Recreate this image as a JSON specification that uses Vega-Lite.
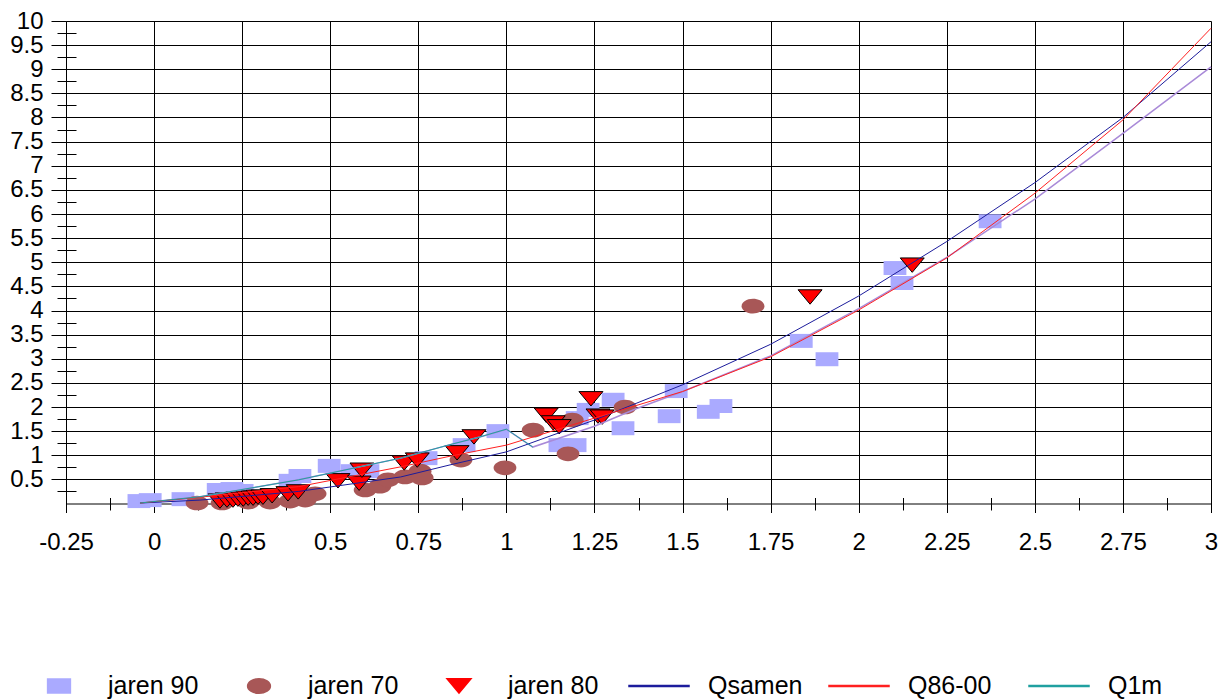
{
  "$schema": "https://vega.github.io/schema/vega-lite/v6.json",
  "width": 1145,
  "height": 482.5,
  "autosize": {"type": "none"},
  "padding": {"left": 66, "top": 21, "right": 20, "bottom": 196.5},
  "background": "white",
  "config": {
    "view": {"stroke": null},
    "axis": {"labelFont": "Liberation Sans", "labelFontSize": 24, "labelColor": "black", "domainColor": "black", "tickColor": "black", "gridColor": "black", "gridOpacity": 1, "tickWidth": 1, "gridWidth": 1, "domainWidth": 1, "title": null}
  },
  "data": {"values": [
    {"series": "jaren 90", "x": -0.043, "y": 0.05},
    {"series": "jaren 90", "x": -0.011, "y": 0.07},
    {"series": "jaren 90", "x": 0.082, "y": 0.09},
    {"series": "jaren 90", "x": 0.182, "y": 0.28},
    {"series": "jaren 90", "x": 0.221, "y": 0.30},
    {"series": "jaren 90", "x": 0.25, "y": 0.26},
    {"series": "jaren 90", "x": 0.386, "y": 0.47},
    {"series": "jaren 90", "x": 0.414, "y": 0.57},
    {"series": "jaren 90", "x": 0.497, "y": 0.78},
    {"series": "jaren 90", "x": 0.562, "y": 0.67},
    {"series": "jaren 90", "x": 0.607, "y": 0.67},
    {"series": "jaren 90", "x": 0.772, "y": 0.94},
    {"series": "jaren 90", "x": 0.88, "y": 1.21},
    {"series": "jaren 90", "x": 0.976, "y": 1.5},
    {"series": "jaren 90", "x": 1.152, "y": 1.21},
    {"series": "jaren 90", "x": 1.195, "y": 1.21},
    {"series": "jaren 90", "x": 1.201, "y": 1.77},
    {"series": "jaren 90", "x": 1.232, "y": 1.94},
    {"series": "jaren 90", "x": 1.303, "y": 2.15},
    {"series": "jaren 90", "x": 1.331, "y": 1.56},
    {"series": "jaren 90", "x": 1.462, "y": 1.81},
    {"series": "jaren 90", "x": 1.482, "y": 2.33},
    {"series": "jaren 90", "x": 1.573, "y": 1.9},
    {"series": "jaren 90", "x": 1.609, "y": 2.02},
    {"series": "jaren 90", "x": 1.837, "y": 3.37},
    {"series": "jaren 90", "x": 1.91, "y": 2.99},
    {"series": "jaren 90", "x": 2.103, "y": 4.88},
    {"series": "jaren 90", "x": 2.123, "y": 4.57},
    {"series": "jaren 90", "x": 2.373, "y": 5.85},
    {"series": "jaren 70", "x": 0.122, "y": 0.01},
    {"series": "jaren 70", "x": 0.193, "y": 0.01},
    {"series": "jaren 70", "x": 0.267, "y": 0.03},
    {"series": "jaren 70", "x": 0.329, "y": 0.03},
    {"series": "jaren 70", "x": 0.386, "y": 0.05},
    {"series": "jaren 70", "x": 0.429, "y": 0.07},
    {"series": "jaren 70", "x": 0.457, "y": 0.2},
    {"series": "jaren 70", "x": 0.599, "y": 0.28},
    {"series": "jaren 70", "x": 0.641, "y": 0.36},
    {"series": "jaren 70", "x": 0.664, "y": 0.49},
    {"series": "jaren 70", "x": 0.712, "y": 0.55},
    {"series": "jaren 70", "x": 0.755, "y": 0.67},
    {"series": "jaren 70", "x": 0.761, "y": 0.53},
    {"series": "jaren 70", "x": 0.871, "y": 0.9},
    {"series": "jaren 70", "x": 0.996, "y": 0.74},
    {"series": "jaren 70", "x": 1.076, "y": 1.52},
    {"series": "jaren 70", "x": 1.175, "y": 1.03},
    {"series": "jaren 70", "x": 1.187, "y": 1.73},
    {"series": "jaren 70", "x": 1.337, "y": 2.0},
    {"series": "jaren 70", "x": 1.7, "y": 4.09},
    {"series": "jaren 80", "x": 0.187, "y": 0.05},
    {"series": "jaren 80", "x": 0.207, "y": 0.07},
    {"series": "jaren 80", "x": 0.224, "y": 0.07},
    {"series": "jaren 80", "x": 0.238, "y": 0.09},
    {"series": "jaren 80", "x": 0.253, "y": 0.09},
    {"series": "jaren 80", "x": 0.267, "y": 0.11},
    {"series": "jaren 80", "x": 0.281, "y": 0.11},
    {"series": "jaren 80", "x": 0.295, "y": 0.13},
    {"series": "jaren 80", "x": 0.309, "y": 0.13},
    {"series": "jaren 80", "x": 0.335, "y": 0.16},
    {"series": "jaren 80", "x": 0.38, "y": 0.2},
    {"series": "jaren 80", "x": 0.409, "y": 0.24},
    {"series": "jaren 80", "x": 0.522, "y": 0.47},
    {"series": "jaren 80", "x": 0.582, "y": 0.42},
    {"series": "jaren 80", "x": 0.59, "y": 0.69},
    {"series": "jaren 80", "x": 0.71, "y": 0.84},
    {"series": "jaren 80", "x": 0.747, "y": 0.9},
    {"series": "jaren 80", "x": 0.86, "y": 1.05},
    {"series": "jaren 80", "x": 0.908, "y": 1.38},
    {"series": "jaren 80", "x": 1.113, "y": 1.83},
    {"series": "jaren 80", "x": 1.133, "y": 1.67},
    {"series": "jaren 80", "x": 1.15, "y": 1.59},
    {"series": "jaren 80", "x": 1.24, "y": 2.17},
    {"series": "jaren 80", "x": 1.26, "y": 1.81},
    {"series": "jaren 80", "x": 1.272, "y": 1.79},
    {"series": "jaren 80", "x": 1.862, "y": 4.28},
    {"series": "jaren 80", "x": 2.152, "y": 4.94},
    {"series": "Qsamen", "x": -0.04, "y": 0.01},
    {"series": "Qsamen", "x": 0.13, "y": 0.07},
    {"series": "Qsamen", "x": 0.41, "y": 0.25},
    {"series": "Qsamen", "x": 0.7, "y": 0.55},
    {"series": "Qsamen", "x": 0.84, "y": 0.8},
    {"series": "Qsamen", "x": 1.0, "y": 1.07},
    {"series": "Qsamen", "x": 1.25, "y": 1.73},
    {"series": "Qsamen", "x": 1.5, "y": 2.46},
    {"series": "Qsamen", "x": 1.75, "y": 3.3},
    {"series": "Qsamen", "x": 2.0, "y": 4.3},
    {"series": "Qsamen", "x": 2.25, "y": 5.43},
    {"series": "Qsamen", "x": 2.5, "y": 6.65},
    {"series": "Qsamen", "x": 2.75, "y": 8.0},
    {"series": "Qsamen", "x": 3.0, "y": 9.57},
    {"series": "Q86-00", "x": -0.04, "y": 0.01},
    {"series": "Q86-00", "x": 0.13, "y": 0.13},
    {"series": "Q86-00", "x": 0.41, "y": 0.35},
    {"series": "Q86-00", "x": 0.7, "y": 0.76},
    {"series": "Q86-00", "x": 0.84, "y": 0.98},
    {"series": "Q86-00", "x": 1.0, "y": 1.21},
    {"series": "Q86-00", "x": 1.25, "y": 1.77},
    {"series": "Q86-00", "x": 1.5, "y": 2.32},
    {"series": "Q86-00", "x": 1.75, "y": 3.04},
    {"series": "Q86-00", "x": 2.0, "y": 4.01},
    {"series": "Q86-00", "x": 2.25, "y": 5.09},
    {"series": "Q86-00", "x": 2.5, "y": 6.43},
    {"series": "Q86-00", "x": 2.75, "y": 7.95},
    {"series": "Q86-00", "x": 3.0, "y": 9.85},
    {"series": "Q1m", "x": -0.04, "y": 0.01},
    {"series": "Q1m", "x": 0.13, "y": 0.14},
    {"series": "Q1m", "x": 0.41, "y": 0.49},
    {"series": "Q1m", "x": 0.7, "y": 0.94},
    {"series": "Q1m", "x": 0.84, "y": 1.22},
    {"series": "Q1m", "x": 0.925, "y": 1.38},
    {"series": "Q1m", "x": 1.0, "y": 1.54},
    {"series": "Q1m", "x": 1.075, "y": 1.17},
    {"series": "Qfit", "x": -0.04, "y": 0.01},
    {"series": "Qfit", "x": 0.13, "y": 0.14},
    {"series": "Qfit", "x": 0.41, "y": 0.49},
    {"series": "Qfit", "x": 0.7, "y": 0.94},
    {"series": "Qfit", "x": 0.84, "y": 1.22},
    {"series": "Qfit", "x": 0.925, "y": 1.38},
    {"series": "Qfit", "x": 1.0, "y": 1.54},
    {"series": "Qfit", "x": 1.075, "y": 1.17},
    {"series": "Qfit", "x": 1.25, "y": 1.6},
    {"series": "Qfit", "x": 1.37, "y": 1.97},
    {"series": "Qfit", "x": 1.5, "y": 2.32},
    {"series": "Qfit", "x": 1.75, "y": 3.06},
    {"series": "Qfit", "x": 2.0, "y": 4.04},
    {"series": "Qfit", "x": 2.25, "y": 5.1},
    {"series": "Qfit", "x": 2.5, "y": 6.31},
    {"series": "Qfit", "x": 2.75, "y": 7.67},
    {"series": "Qfit", "x": 3.0, "y": 9.05}
  ]},
  "resolve": {"axis": {"x": "independent", "y": "independent"}},
  "layer": [
    {
      "transform": [{"filter": "datum.series === 'jaren 90'"}],
      "mark": {"type": "point", "filled": true, "opacity": 1, "size": 3600, "strokeWidth": 0},
      "encoding": {
        "x": {"field": "x", "type": "quantitative", "scale": {"domain": [-0.25, 3], "nice": false, "zero": false},
          "axis": {"orient": "bottom", "values": [-0.25, 0, 0.25, 0.5, 0.75, 1, 1.25, 1.5, 1.75, 2, 2.25, 2.5, 2.75, 3], "grid": true, "tickSize": 9, "labelPadding": 18, "labelExpr": "'' + datum.value", "labelFlush": false, "labelOverlap": false}},
        "y": {"field": "y", "type": "quantitative", "scale": {"domain": [0, 10], "nice": false, "zero": false},
          "axis": {"orient": "left", "values": [0.5, 1, 1.5, 2, 2.5, 3, 3.5, 4, 4.5, 5, 5.5, 6, 6.5, 7, 7.5, 8, 8.5, 9, 9.5, 10], "grid": true, "tickSize": 15, "labelPadding": 8, "labelExpr": "'' + datum.value", "labelFlush": false, "labelOverlap": false}},
        "color": {"field": "series", "type": "nominal",
          "scale": {"domain": ["jaren 90", "jaren 70", "jaren 80", "Qsamen", "Q86-00", "Q1m"], "range": ["#aaaaff", "#a85757", "#ff0000", "#1c1c9c", "#ff2020", "#20a0a0"]},
          "legend": {"title": null, "orient": "none", "legendX": -38, "legendY": 634, "direction": "horizontal", "columns": 6, "gridAlign": "all", "columnPadding": 23, "symbolSize": 3600, "symbolOpacity": 1, "labelOffset": 18, "labelFont": "Liberation Sans", "labelFontSize": 25, "labelColor": "black", "padding": 0}
        },
        "shape": {"field": "series", "type": "nominal",
          "scale": {"domain": ["jaren 90", "jaren 70", "jaren 80", "Qsamen", "Q86-00", "Q1m"],
            "range": ["M-0.38,-0.233L0.38,-0.233L0.38,0.233L-0.38,0.233Z", "M-0.38,0A0.38,0.245 0 1,0 0.38,0A0.38,0.245 0 1,0 -0.38,0Z", "M-0.4,-0.24L0.4,-0.24L0,0.24Z", "M-1,-0.017L1,-0.017L1,0.017L-1,0.017Z", "M-1,-0.017L1,-0.017L1,0.017L-1,0.017Z", "M-1,-0.017L1,-0.017L1,0.017L-1,0.017Z"]},
          "legend": {"title": null, "orient": "none", "legendX": -38, "legendY": 634, "direction": "horizontal", "columns": 6, "gridAlign": "all", "columnPadding": 23, "symbolSize": 3600, "symbolOpacity": 1, "labelOffset": 18, "labelFont": "Liberation Sans", "labelFontSize": 25, "labelColor": "black", "padding": 0}
        }
      }
    },
    {
      "transform": [{"filter": "datum.series === 'jaren 70'"}],
      "mark": {"type": "point", "filled": true, "opacity": 1, "size": 3600, "strokeWidth": 0},
      "encoding": {
        "x": {"field": "x", "type": "quantitative",
          "axis": {"orient": "bottom", "offset": -6, "values": [-0.125, 0.125, 0.375, 0.625, 0.875, 1.125, 1.375, 1.625, 1.875, 2.125, 2.375, 2.625, 2.875], "grid": false, "domain": false, "labels": false, "tickSize": 12.5}},
        "y": {"field": "y", "type": "quantitative",
          "axis": {"orient": "left", "offset": -10, "values": [0.25, 0.75, 1.25, 1.75, 2.25, 2.75, 3.25, 3.75, 4.25, 4.75, 5.25, 5.75, 6.25, 6.75, 7.25, 7.75, 8.25, 8.75, 9.25, 9.75], "grid": false, "domain": false, "labels": false, "tickSize": 19}},
        "color": {"field": "series", "type": "nominal"},
        "shape": {"field": "series", "type": "nominal"}
      }
    },
    {
      "transform": [{"filter": "datum.series === 'jaren 80'"}],
      "mark": {"type": "point", "filled": true, "opacity": 1, "size": 3600, "stroke": "black", "strokeWidth": 1},
      "encoding": {
        "x": {"field": "x", "type": "quantitative", "axis": null},
        "y": {"field": "y", "type": "quantitative", "axis": null},
        "color": {"field": "series", "type": "nominal"},
        "shape": {"field": "series", "type": "nominal"}
      }
    },
    {
      "transform": [{"filter": "datum.series === 'Qfit'"}],
      "mark": {"type": "line", "color": "#a98ad8", "strokeWidth": 1.5},
      "encoding": {
        "x": {"field": "x", "type": "quantitative", "axis": null},
        "y": {"field": "y", "type": "quantitative", "axis": null}
      }
    },
    {
      "transform": [{"filter": "datum.series === 'Qsamen' || datum.series === 'Q86-00' || datum.series === 'Q1m'"}],
      "mark": {"type": "line", "strokeWidth": 1},
      "encoding": {
        "x": {"field": "x", "type": "quantitative", "axis": null},
        "y": {"field": "y", "type": "quantitative", "axis": null},
        "color": {"field": "series", "type": "nominal"}
      }
    }
  ]
}
